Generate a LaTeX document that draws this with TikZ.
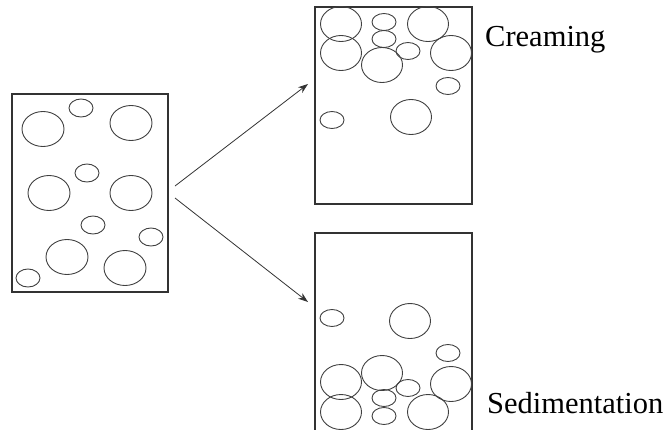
\documentclass[tikz,border=0pt]{standalone}
\usepackage{fontspec}
\setmainfont{Liberation Serif}
\usetikzlibrary{arrows.meta}
\begin{document}
\begin{tikzpicture}[x=1pt,y=-1pt,
  boxst/.style={draw=black!80,line width=1.1pt},
  bubble/.style={draw=black!75,line width=0.9pt},
  arr/.style={draw=black!80,line width=0.8pt,-{Stealth[length=10pt,width=7pt]}},
  lbl/.style={font=\fontsize{30.5}{34}\selectfont,anchor=base west,inner sep=0pt}]
\useasboundingbox (0,0) rectangle (669,429);
% boxes
\draw[boxst] (12,94) rectangle (168,292);
\draw[boxst] (315,7) rectangle (472,204);
\draw[boxst] (315,233) rectangle (472,431);
% left bubbles
\foreach \x/\y in {43/129,131/123,49/193,131/193,67/257,125/268}
  \draw[bubble] (\x,\y) ellipse [x radius=21,y radius=17.5];
\foreach \x/\y in {81/108,87/173,93/225,151/237,28/278}
  \draw[bubble] (\x,\y) ellipse [x radius=12,y radius=9];
% creaming bubbles
\foreach \x/\y in {341/24,428/24,341/53,382/65,451/53,411/117}
  \draw[bubble] (\x,\y) ellipse [x radius=20.5,y radius=17.5];
\foreach \x/\y in {384/22,384/39,408/51,448/86,332/120}
  \draw[bubble] (\x,\y) ellipse [x radius=12,y radius=8.5];
% sedimentation bubbles
\foreach \x/\y in {410/321,382/373,341/382,451/384,341/412,428/412}
  \draw[bubble] (\x,\y) ellipse [x radius=20.5,y radius=17.5];
\foreach \x/\y in {332/318,448/353,408/388,384/398,384/416}
  \draw[bubble] (\x,\y) ellipse [x radius=12,y radius=8.5];
% arrows
\coordinate (s1) at (175,186);
\coordinate (e1) at (308,84);
\coordinate (s2) at (175,198);
\coordinate (e2) at (308,302);
\draw[arr] (s1) -- (e1);
\draw[arr] (s2) -- (e2);
% labels
\node[lbl] (cream) at (485,46) {Creaming};
\node[lbl] (sed) at (487,413) {Sedimentation};
\end{tikzpicture}
\end{document}
